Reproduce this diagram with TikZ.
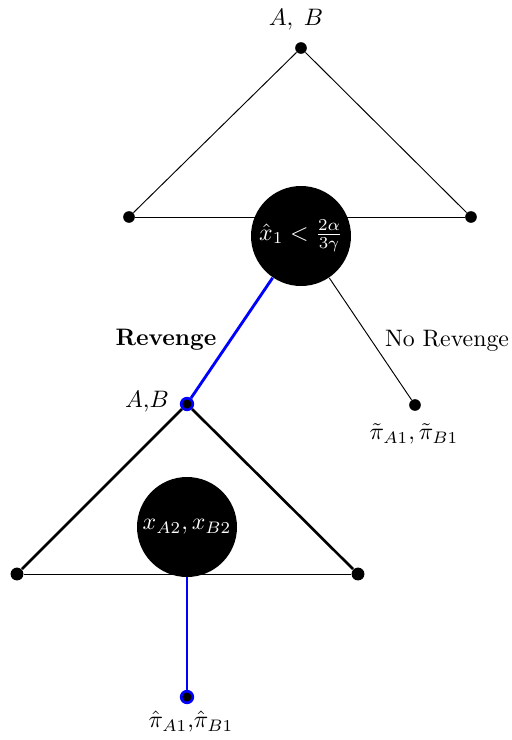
\documentclass[tikz,border=0pt]{standalone}
\begin{document}
\begin{tikzpicture}[x=0.42pt,y=-0.42pt,
  dotS/.style={circle,fill=black,inner sep=0pt,minimum size=4.9pt},
  dotL/.style={circle,fill=black,inner sep=0pt,minimum size=5.4pt},
  bdot/.style={circle,fill=black,draw=blue,line width=1.1pt,inner sep=0pt,minimum size=4.9pt},
  bigc/.style={circle,fill=black,inner sep=0pt,minimum size=42pt,text=white},
  thinl/.style={line width=0.4pt},
  thickl/.style={line width=1.1pt},
  bluel/.style={draw=blue,line width=1.2pt},
  lbl/.style={inner sep=0pt}]
\useasboundingbox (0,0) rectangle (511,740);
% top game
\node[dotS] (t) at (301,48) {};
\node[dotS] (l) at (129,217) {};
\node[dotS] (r) at (471,217) {};
\node[lbl] (tl) at (296,20) {$A,\;B$};
\draw[thinl] (t) -- (l);
\draw[thinl] (t) -- (r);
\draw[thinl] (l) -- (r);
\node[dotS] (nr) at (415,405) {};
\node[bdot] (ab) at (187,404) {};
\node[bigc] (c1) at (301,236) {$\hat{x}_1<\frac{2\alpha}{3\gamma}$};
\draw[bluel] (c1) -- (ab);
\draw[thinl] (c1) -- (nr);
\node[lbl] (rev) at (166,340) {\textbf{Revenge}};
\node[lbl] (norev) at (447,341) {No Revenge};
\node[lbl] (pt) at (414,434) {$\tilde{\pi}_{A1},\tilde{\pi}_{B1}$};
\node[lbl] (abl) at (147,402) {$A$,$B$};
% lower game
\node[dotL] (l2) at (17,574) {};
\node[dotL] (r2) at (358,574) {};
\draw[thickl] (ab) -- (l2);
\draw[thickl] (ab) -- (r2);
\draw[thinl] (l2) -- (r2);
\node[bigc] (c2) at (187,527) {$x_{A2},x_{B2}$};
\node[bdot] (bot) at (187,697) {};
\draw[bluel] (c2) -- (bot);
\node[lbl] (pb) at (191,722) {$\hat{\pi}_{A1}$,$\hat{\pi}_{B1}$};
\end{tikzpicture}
\end{document}
